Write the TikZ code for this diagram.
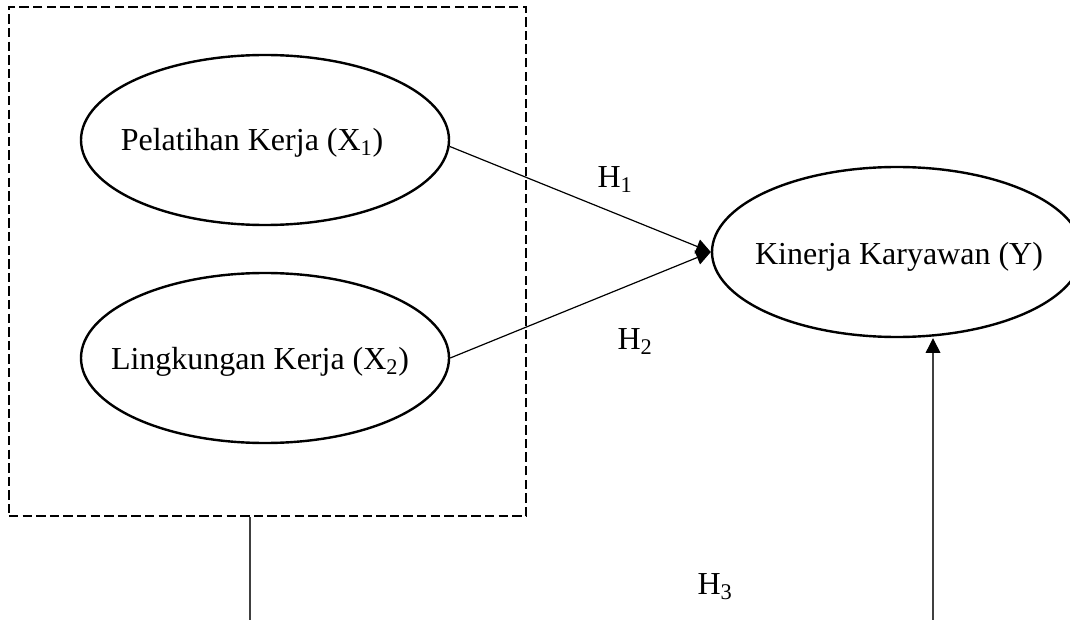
\documentclass[tikz,border=0pt]{standalone}
\usepackage{fontspec}
\setmainfont{Liberation Serif}
\usetikzlibrary{shapes.geometric,arrows.meta}
\begin{document}
\begin{tikzpicture}[x=0.75pt,y=-0.75pt,
  var/.style={ellipse,draw,line width=1.8pt,inner sep=0pt,minimum width=276pt,minimum height=127.5pt},
  lbl/.style={font=\fontsize{24}{28}\selectfont,inner sep=0pt},
  link/.style={line width=0.9pt,-{Triangle[length=11pt,width=11pt,color=black]}},
  stem/.style={line width=1pt,draw=black!75},
  frame/.style={draw,line width=1.8pt,dash pattern=on 7pt off 3.2pt,inner sep=0pt,minimum width=387.75pt,minimum height=381.75pt}
]
\useasboundingbox (0,0) rectangle (1070,620);
\node[frame] (box) at (267.5,261.5) {};
\node[var] (P) at (265,140) {};
\node[lbl] (Pt) at (252,143) {Pelatihan Kerja (X\textsubscript{1})};
\node[var] (L) at (265,358) {};
\node[lbl] (Lt) at (260,362) {Lingkungan Kerja (X\textsubscript{2})};
\node[var,minimum width=277.5pt] (K) at (897,252) {};
\node[lbl] (Kt) at (899,257) {Kinerja Karyawan (Y)};
\node[lbl] (h1) at (615,180) {H\textsubscript{1}};
\node[lbl] (h2) at (635,342) {H\textsubscript{2}};
\node[lbl] (h3) at (715,587) {H\textsubscript{3}};
\draw[link] (P.-2) -- (K.west);
\draw[link] (L.east) -- (K.west);
\coordinate (c) at (250,620);
\draw[stem] (box.south -| c) -- (c);
\coordinate (d) at (933,620);
\draw[stem,link,draw=black!75] (d) -- (d |- K.south);
\end{tikzpicture}
\end{document}
